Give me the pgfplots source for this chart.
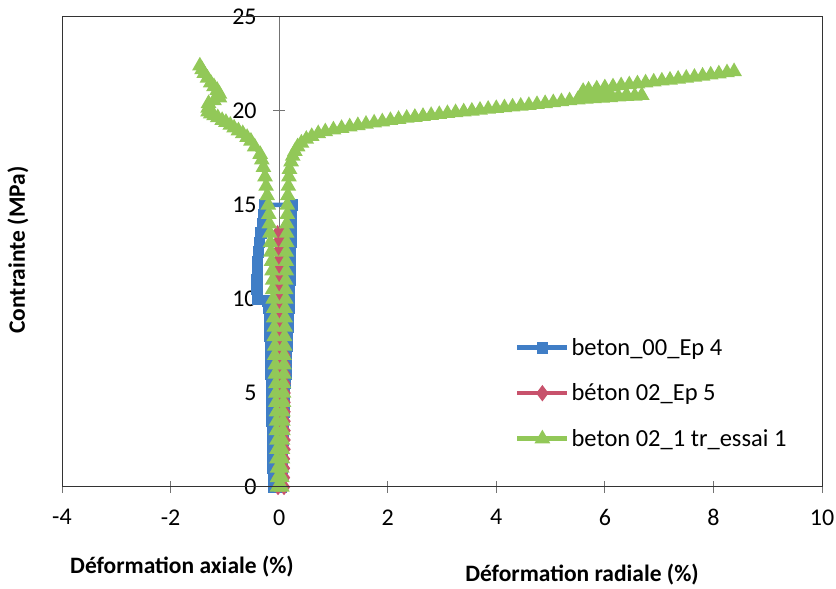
\documentclass[border=0pt]{standalone}
\usepackage{pgfplots}
\pgfplotsset{compat=1.18}
\usepackage{fontspec}
\setmainfont{Carlito}
\definecolor{cblue}{RGB}{64,126,198}
\definecolor{cred}{RGB}{200,82,108}
\definecolor{cgreen}{RGB}{146,200,88}
\begin{document}
\begin{tikzpicture}
\useasboundingbox (0,0) rectangle (836pt,589pt);
\begin{axis}[
  name=ax,
  at={(62pt,102pt)}, anchor=south west,
  width=760pt, height=470pt, scale only axis,
  xmin=-4, xmax=10, ymin=0, ymax=25,
  axis x line*=bottom, axis y line*=middle,
  hide obscured x ticks=false, hide obscured y ticks=false,
  xtick={-4,-2,0,2,4,6,8,10}, ytick={0,5,10,15,20,25},
  tick align=center, major tick length=12pt,
  axis line style={black!55, line width=1pt},
  tick style={black!55, line width=1pt},
  /pgf/number format/assume math mode=true,
  ticklabel style={font=\fontsize{24}{28}\selectfont},
  xticklabel style={yshift=-13pt},
  yticklabel style={xshift=-13pt},
  clip=false,
  legend style={at={(rel axis cs:0.592,0.325)}, anchor=north west, draw=none, fill=none,
    font=\fontsize{24.5}{28}\selectfont, row sep=23pt, cells={anchor=west}},
  legend image code/.code={\draw[mark repeat=2,mark phase=2,#1] plot coordinates {(0pt,0pt) (25pt,0pt) (50pt,0pt)};},
]
% blue: axial up, radial down
\addplot[cblue, line width=4.5pt, mark=square*, mark size=3.6pt, mark options={solid}] coordinates {
(-0.10,0) (-0.10,0.5) (-0.11,1) (-0.11,1.5) (-0.12,2) (-0.12,2.5) (-0.12,3) (-0.13,3.5) (-0.13,4) (-0.13,4.5)
(-0.14,5) (-0.14,5.5) (-0.15,6) (-0.15,6.5) (-0.16,7) (-0.16,7.5) (-0.17,8) (-0.18,8.5) (-0.18,9) (-0.19,9.5)
(-0.20,9.9) (-0.40,10.0) (-0.41,10.5) (-0.41,11) (-0.40,11.5) (-0.40,12) (-0.38,12.5) (-0.36,13) (-0.33,13.5)
(-0.30,14) (-0.28,14.5) (-0.26,15)
(0.24,15) (0.23,14.5) (0.23,14) (0.22,13.5) (0.22,13) (0.21,12.5) (0.21,12) (0.20,11.5) (0.20,11) (0.19,10.5)
(0.19,10) (0.18,9.5) (0.17,9) (0.16,8.5) (0.15,8) (0.14,7.5) (0.13,7) (0.12,6.5) (0.12,6) (0.11,5.5) (0.10,5)
(0.09,4.5) (0.09,4) (0.08,3.5) (0.07,3) (0.07,2.5) (0.06,2) (0.05,1.5) (0.05,1) (0.04,0.5) (0.03,0)
};
\addlegendentry{beton\_00\_Ep 4}
% red
\addplot[cred, line width=4.5pt, mark=diamond*, mark size=4.5pt, mark options={solid}] coordinates {
(-0.02,0) (-0.02,0.5) (-0.02,1) (-0.02,1.5) (-0.02,2) (-0.02,2.5) (-0.02,3) (-0.02,3.5) (-0.02,4) (-0.02,4.5)
(-0.02,5) (-0.02,5.5) (-0.02,6) (-0.02,6.5) (-0.02,7) (-0.02,7.5) (-0.02,8) (-0.02,8.5) (-0.02,9) (-0.02,9.5)
(-0.02,10) (-0.02,10.5) (-0.03,11) (-0.03,11.5) (-0.03,12) (-0.03,12.5) (-0.03,13) (-0.03,13.5)
(0.07,13.5) (0.07,13) (0.07,12.5) (0.07,12) (0.07,11.5) (0.08,11) (0.08,10.5) (0.08,10) (0.08,9.5) (0.09,9)
(0.09,8.5) (0.09,8) (0.09,7.5) (0.10,7) (0.10,6.5) (0.10,6) (0.10,5.5) (0.10,5) (0.10,4.5) (0.10,4) (0.10,3.5)
(0.10,3) (0.10,2.5) (0.10,2) (0.09,1.5) (0.09,1) (0.09,0.5) (0.09,0)
};
\addlegendentry{béton 02\_Ep 5}
% green axial
\addplot[cgreen, line width=4.5pt, mark=triangle*, mark size=4.6pt, mark options={solid}] coordinates {
(-0.03,0) (-0.03,0.5) (-0.03,1) (-0.04,1.5) (-0.04,2) (-0.04,2.5) (-0.05,3) (-0.05,3.5) (-0.05,4) (-0.06,4.5)
(-0.06,5) (-0.06,5.5) (-0.07,6) (-0.07,6.5) (-0.08,7) (-0.08,7.5) (-0.09,8) (-0.09,8.5) (-0.10,9) (-0.10,9.5)
(-0.11,10) (-0.12,10.5) (-0.12,11) (-0.13,11.5) (-0.14,12) (-0.15,12.5) (-0.16,13) (-0.17,13.5) (-0.18,14)
(-0.19,14.5) (-0.20,15) (-0.22,15.5) (-0.24,16) (-0.26,16.5) (-0.29,17) (-0.32,17.4) (-0.35,17.7) (-0.45,18.1)
(-0.52,18.4) (-0.59,18.6) (-0.67,18.8) (-0.75,18.95) (-0.83,19.1) (-0.90,19.25) (-0.98,19.4) (-1.05,19.5)
(-1.13,19.65) (-1.20,19.75) (-1.26,19.85) (-1.31,19.95) (-1.31,20.15) (-1.30,20.4) (-1.20,20.55) (-1.10,20.7)
(-1.10,20.9) (-1.14,21.1) (-1.20,21.3) (-1.26,21.5) (-1.32,21.75) (-1.38,22.0) (-1.42,22.2) (-1.46,22.4)
};
\addlegendentry{beton 02\_1 tr\_essai 1}
% green radial
\addplot[cgreen, line width=4.5pt, mark=triangle*, mark size=4.6pt, mark options={solid}, forget plot] coordinates {
(0.05,0) (0.05,0.5) (0.05,1) (0.06,1.5) (0.06,2) (0.06,2.5) (0.07,3) (0.07,3.5) (0.07,4) (0.08,4.5)
(0.08,5) (0.08,5.5) (0.09,6) (0.09,6.5) (0.09,7) (0.10,7.5) (0.10,8) (0.11,8.5) (0.11,9) (0.11,9.5)
(0.12,10) (0.12,10.5) (0.12,11) (0.13,11.5) (0.13,12) (0.13,12.5) (0.14,13) (0.14,13.5) (0.14,14) (0.15,14.5)
(0.15,15) (0.16,15.5) (0.17,16) (0.18,16.5) (0.19,16.9) (0.22,17.3) (0.25,17.6) (0.29,17.85) (0.34,18.1)
(0.41,18.3) (0.50,18.5) (0.60,18.65) (0.72,18.8) (0.85,18.9) (1.0,19.0) (1.15,19.08) (1.3,19.16) (1.45,19.23)
(1.6,19.3) (1.75,19.37) (1.9,19.43) (2.05,19.5) (2.2,19.56) (2.35,19.62) (2.5,19.67) (2.65,19.72) (2.8,19.77)
(2.95,19.82) (3.1,19.87) (3.25,19.92) (3.4,19.96) (3.55,20.0) (3.7,20.05) (3.85,20.1) (4.0,20.14) (4.15,20.18)
(4.3,20.22) (4.45,20.26) (4.6,20.3) (4.75,20.35) (4.9,20.4) (5.05,20.45) (5.2,20.5) (5.35,20.55) (5.5,20.6)
(5.65,20.63) (5.8,20.66) (5.95,20.69) (6.1,20.72) (6.25,20.75) (6.4,20.78) (6.55,20.8) (6.68,20.83) (6.4,20.85)
(6.1,20.88) (5.8,20.92) (5.6,20.95) (5.6,21.05) (5.7,21.12) (5.85,21.18) (6.0,21.24) (6.15,21.29) (6.3,21.35)
(6.45,21.4) (6.6,21.45) (6.75,21.5) (6.9,21.55) (7.05,21.6) (7.2,21.65) (7.35,21.7) (7.5,21.75) (7.65,21.8)
(7.8,21.86) (7.95,21.92) (8.1,21.98) (8.25,22.04) (8.38,22.1)
};
\end{axis}
\draw[black!80, line width=1pt] (ax.south west) rectangle (ax.north east);
\node[rotate=90, font=\fontsize{23.5}{28}\selectfont\bfseries] at (18pt,339pt) {Contrainte (MPa)};
\node[font=\fontsize{23.5}{28}\selectfont\bfseries] at (182pt,22pt) {Déformation axiale (\%)};
\node[font=\fontsize{23.5}{28}\selectfont\bfseries] at (582pt,14pt) {Déformation radiale (\%)};
\end{tikzpicture}
\end{document}
